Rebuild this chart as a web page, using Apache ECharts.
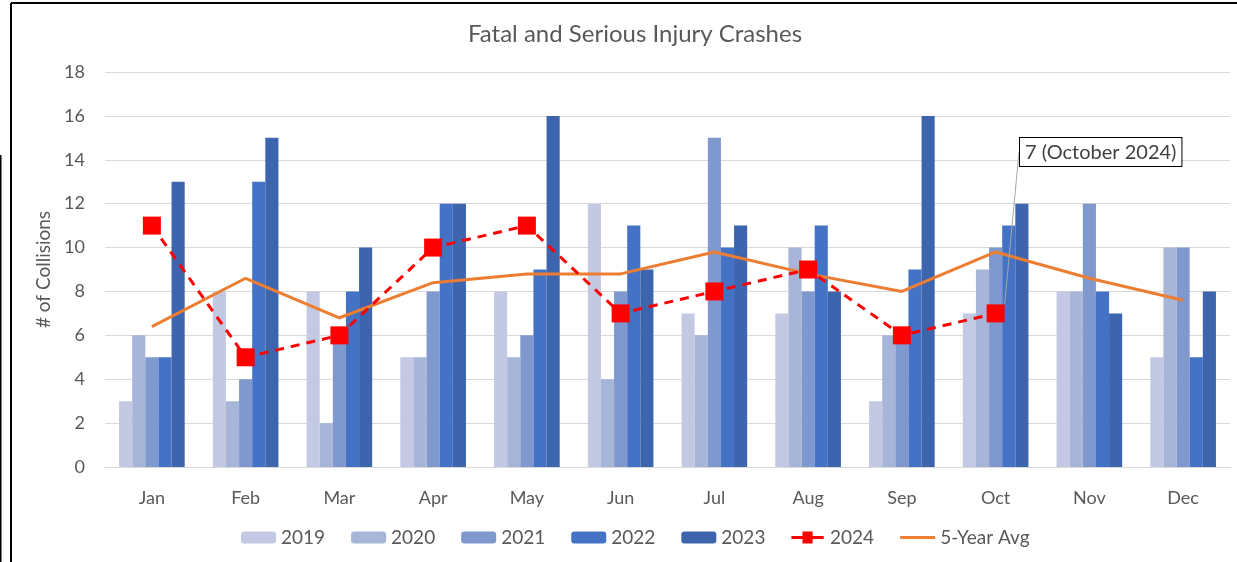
<!DOCTYPE html>
<html>
<head>
<meta charset="utf-8">
<script src="https://cdn.jsdelivr.net/npm/echarts@6/dist/echarts.min.js"></script>
<style>
  html, body { margin: 0; padding: 0; background: #fff; }
  #chart { width: 1237px; height: 562px; }
</style>
</head>
<body>
<div id="chart"></div>
<script>
const months = ["Jan", "Feb", "Mar", "Apr", "May", "Jun", "Jul", "Aug", "Sep", "Oct", "Nov", "Dec"];

const y2019 = [3, 8, 8, 5, 8, 12, 7, 7, 3, 7, 8, 5];
const y2020 = [6, 3, 2, 5, 5, 4, 6, 10, 6, 9, 8, 10];
const y2021 = [5, 4, 6, 8, 6, 8, 15, 8, 6, 10, 12, 10];
const y2022 = [5, 13, 8, 12, 9, 11, 10, 11, 9, 11, 8, 5];
const y2023 = [13, 15, 10, 12, 16, 9, 11, 8, 16, 12, 7, 8];
const y2024 = [11, 5, 6, 10, 11, 7, 8, 9, 6, 7, null, null];
const avg5 = [6.4, 8.6, 6.8, 8.4, 8.8, 8.8, 9.8, 8.8, 8.0, 9.8, 8.6, 7.6];

const barColors = ["#C3C9E2", "#A7B5D9", "#7F98CE", "#4472C4", "#3D65AE"];
const fontFam = "Lato, 'Noto Sans', sans-serif";

const chart = echarts.init(document.getElementById("chart"), null, { renderer: "canvas" });

function barSeries(name, data, color) {
  return {
    name: name,
    type: "bar",
    data: data,
    barGap: "0%",
    barCategoryGap: "30%",
    itemStyle: { color: color },
    emphasis: { disabled: true },
  };
}

// only the October 2024 point carries a callout
const data2024 = y2024.map((v, i) => {
  if (i !== 9) return v;
  return {
    value: v,
    label: {
      show: true,
      formatter: "7 (October 2024)",
      position: "top",
      color: "#404040",
      fontSize: 20,
      fontFamily: fontFam,
      backgroundColor: "#fff",
      borderColor: "#000",
      borderWidth: 1,
      padding: [5, 5, 3, 5],
    },
    labelLine: { show: true, lineStyle: { color: "#A6A6A6", width: 1 } },
  };
});

const option = {
  animation: false,
  backgroundColor: "#fff",
  textStyle: { fontFamily: fontFam },
  title: {
    text: "Fatal and Serious Injury Crashes",
    left: 630,
    textAlign: "center",
    top: 17,
    textStyle: { fontSize: 24, fontWeight: "normal", color: "#595959", fontFamily: fontFam },
  },
  grid: { left: 105, right: 7, top: 72, bottom: 95 },
  legend: {
    bottom: 10,
    left: 236,
    itemWidth: 35,
    itemHeight: 12,
    itemGap: 26,
    textStyle: { fontSize: 19, color: "#595959", fontFamily: fontFam },
    data: [
      "2019", "2020", "2021", "2022", "2023",
      { name: "2024", icon: "path://M0,5 L12,5 L12,0 L23,0 L23,5 L35,5 L35,8 L23,8 L23,13 L12,13 L12,8 L0,8 Z" },
      { name: "5-Year Avg", icon: "path://M0,0 L35,0 L35,3 L0,3 Z" },
    ],
  },
  xAxis: {
    type: "category",
    data: months,
    axisTick: { show: false },
    axisLine: { lineStyle: { color: "#D9D9D9", width: 1 } },
    axisLabel: { fontSize: 18, color: "#595959", margin: 22 },
  },
  yAxis: {
    type: "value",
    min: 0,
    max: 18,
    interval: 2,
    name: "# of Collisions",
    nameLocation: "middle",
    nameGap: 50,
    nameTextStyle: { fontSize: 19, color: "#595959" },
    axisLabel: { fontSize: 18, color: "#595959", margin: 20 },
    splitLine: { lineStyle: { color: "#D9D9D9", width: 1 } },
  },
  series: [
    barSeries("2019", y2019, barColors[0]),
    barSeries("2020", y2020, barColors[1]),
    barSeries("2021", y2021, barColors[2]),
    barSeries("2022", y2022, barColors[3]),
    barSeries("2023", y2023, barColors[4]),
    {
      name: "2024",
      type: "line",
      data: data2024,
      symbol: "rect",
      symbolSize: 18,
      itemStyle: { color: "#FF0000" },
      lineStyle: { color: "#FF0000", width: 3, type: [9, 7] },
      labelLayout: function (params) {
        if (params.dataIndex === 9) {
          return { x: 1020, y: 138, align: "left", verticalAlign: "top" };
        }
      },
      z: 4,
    },
    {
      name: "5-Year Avg",
      type: "line",
      data: avg5,
      symbol: "none",
      lineStyle: { color: "#ED7D31", width: 3 },
      itemStyle: { color: "#ED7D31" },
      z: 3,
    },
  ],
  graphic: [
    { type: "line", shape: { x1: 11, y1: 3, x2: 1237, y2: 3 }, style: { stroke: "#000", lineWidth: 2 } },
    { type: "line", shape: { x1: 11, y1: 3, x2: 11, y2: 562 }, style: { stroke: "#000", lineWidth: 2 } },
    { type: "line", shape: { x1: 0.5, y1: 155, x2: 0.5, y2: 562 }, style: { stroke: "#000", lineWidth: 2 } },
  ],
};

chart.setOption(option);
</script>
</body>
</html>
